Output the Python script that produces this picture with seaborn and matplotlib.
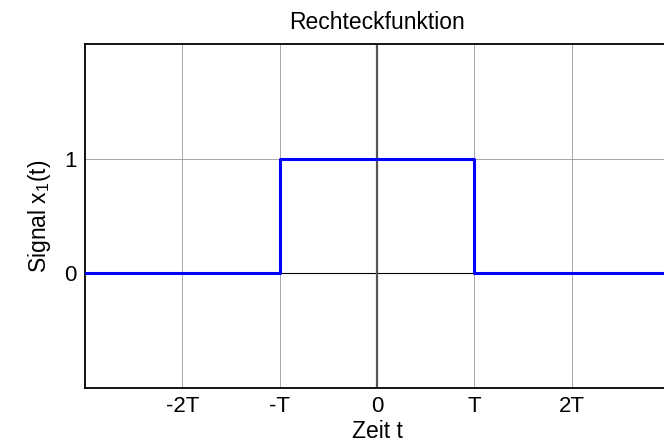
import numpy as np
import pandas as pd
import matplotlib
matplotlib.use("Agg")
import matplotlib.pyplot as plt
import seaborn as sns

# dati della funzione rettangolare (t in unità di T)
t_vals = [-3, -1, -1, 1, 1, 3]
x_vals = [0, 0, 1, 1, 0, 0]
xtick_pos = [-2, -1, 0, 1, 2]
xtick_lab = ["-2T", "-T", "0", "T", "2T"]
ytick_pos = [0, 1]

sns.set_style("white")
plt.rcParams["font.family"] = ["Liberation Sans", "DejaVu Sans"]
plt.rcParams["xtick.direction"] = "in"
plt.rcParams["ytick.direction"] = "in"
plt.rcParams["text.color"] = "black"
plt.rcParams["axes.labelcolor"] = "black"
plt.rcParams["xtick.labelcolor"] = "black"
plt.rcParams["ytick.labelcolor"] = "black"

df = pd.DataFrame({"t": t_vals, "x": x_vals})

fig = plt.figure(figsize=(6.64, 4.44), dpi=100)
ax = fig.add_axes([85 / 664, 56 / 444, 584 / 664, 344 / 444])

ax.grid(True, color="#999999", linewidth=0.6)
ax.axhline(0, color="black", linewidth=0.8, zorder=1.5)
ax.axvline(0, color="#555555", linewidth=1.6, zorder=1.5)

sns.lineplot(data=df, x="t", y="x", sort=False, estimator=None,
             color="#0000ff", linewidth=2.2, ax=ax, zorder=3)

ax.set_xlim(-3, 3)
ax.set_ylim(-1, 2)
ax.set_xticks(xtick_pos)
ax.set_xticklabels(xtick_lab)
ax.set_yticks(ytick_pos)
ax.tick_params(labelsize=16, length=3, width=0.8, color="black", pad=6)

for s in ax.spines.values():
    s.set_color("black")
    s.set_linewidth(1.3)

ax.set_title("Rechteckfunktion", fontsize=16.5, pad=11)
ax.set_xlabel("Zeit t", fontsize=16.5, labelpad=2)
ax.set_ylabel(r"Signal x$_\mathregular{1}$(t)", fontsize=16.5, labelpad=8)

fig.savefig("out.png", dpi=100)
